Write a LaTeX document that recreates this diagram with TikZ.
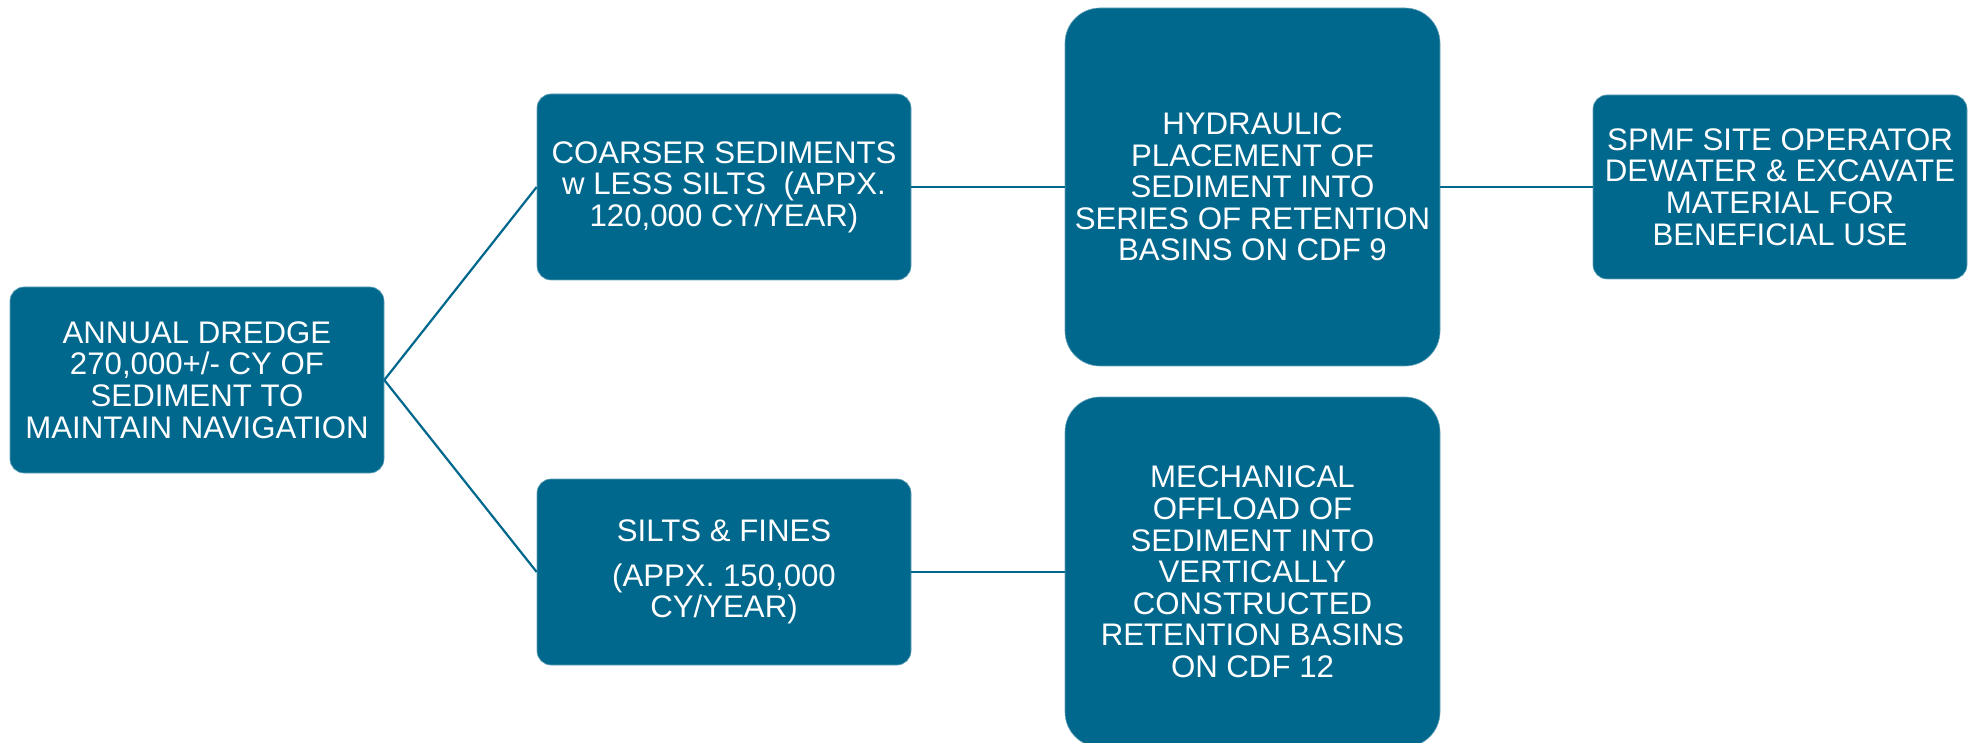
\documentclass[tikz,border=0pt]{standalone}
\usepackage{fontspec}
\setmainfont{Liberation Sans}
\definecolor{teal}{RGB}{0,103,141}
\begin{document}
\begin{tikzpicture}[x=1pt,y=-1pt,
  box/.style={fill=teal, draw=teal!60!white, line width=0.6pt, text=white, align=center,
    inner sep=0pt, font=\fontsize{31.2}{31.6}\selectfont},
  smallbox/.style={box, rounded corners=14pt, minimum width=374pt, minimum height=186pt},
  tallbox/.style={box, rounded corners=35pt, minimum width=375pt},
  conn/.style={draw=teal, line width=2.2pt}]
\fill[white] (0,0) rectangle (1974,743);
\useasboundingbox (0,0) rectangle (1974,743);
\node[smallbox] (A) at (197,380) {ANNUAL DREDGE\\270,000+/- CY OF\\SEDIMENT TO\\MAINTAIN NAVIGATION};
\node[smallbox] (B) at (724,187) {COARSER SEDIMENTS\\w LESS SILTS\ \ (APPX.\\120,000 CY/YEAR)};
\node[smallbox] (C) at (724,572) {SILTS \& FINES\\[13pt](APPX. 150,000\\CY/YEAR)};
\node[tallbox, minimum height=358pt] (D) at (1252.5,187) {HYDRAULIC\\PLACEMENT OF\\SEDIMENT INTO\\SERIES OF RETENTION\\BASINS ON CDF 9};
\node[tallbox, minimum height=350pt] (E) at (1252.5,572) {MECHANICAL\\OFFLOAD OF\\SEDIMENT INTO\\VERTICALLY\\CONSTRUCTED\\RETENTION BASINS\\ON CDF 12};
\node[smallbox, minimum height=184pt] (F) at (1780,187) {SPMF SITE OPERATOR\\DEWATER \& EXCAVATE\\MATERIAL FOR\\BENEFICIAL USE};
\draw[conn] (A.east) -- (B.west);
\draw[conn] (A.east) -- (C.west);
\draw[conn] (B.east) -- (D.west);
\draw[conn] (C.east) -- (E.west);
\draw[conn] (D.east) -- (F.west);
\end{tikzpicture}
\end{document}
